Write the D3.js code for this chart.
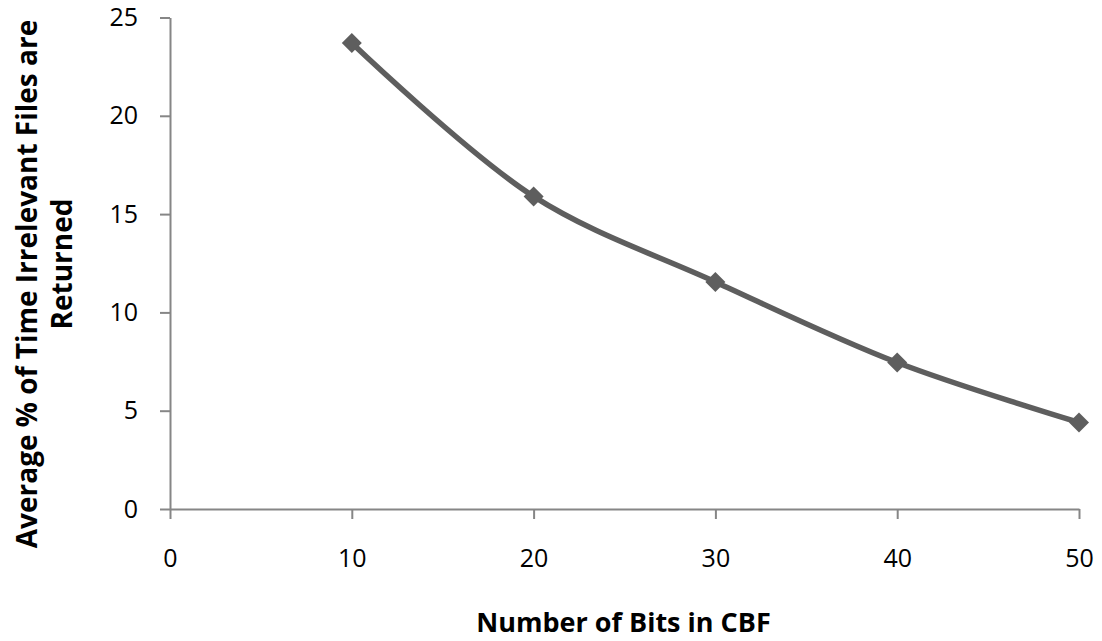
<!DOCTYPE html>
<html>
<head>
<meta charset="utf-8">
<script src="https://cdn.jsdelivr.net/npm/d3@7"></script>
<style>
  html, body { margin: 0; padding: 0; background: #fff; }
  svg { display: block; }
  text { font-family: "Open Sans", Lato, sans-serif; fill: #000; }
</style>
</head>
<body>
<svg id="chart" width="1102" height="641"></svg>
<script>
// Bits in the counting Bloom filter vs. share of irrelevant files returned
const bits = [10, 20, 30, 40, 50];
const irrelevantPct = [23.7, 15.9, 11.55, 7.45, 4.4];
const xTicks = [0, 10, 20, 30, 40, 50];
const yTicks = [0, 5, 10, 15, 20, 25];
const xTitle = "Number of Bits in CBF";
const yTitleLines = ["Average % of Time Irrelevant Files are", "Returned"];

const svg = d3.select("#chart");
const plot = { left: 170, right: 1079, top: 17.5, bottom: 509 };
const font = "'Open Sans', Lato, sans-serif";

const x = d3.scaleLinear().domain([0, 50]).range([plot.left, plot.right]);
const y = d3.scaleLinear().domain([0, 25]).range([plot.bottom, plot.top]);

const axisColor = "#868686";

// Y axis
const gy = svg.append("g").attr("transform", `translate(${plot.left},0)`)
  .call(d3.axisLeft(y).tickValues(yTicks).tickSize(10).tickPadding(22).tickSizeOuter(0));
gy.select(".domain").attr("stroke", axisColor).attr("stroke-width", 2);
gy.selectAll(".tick line").attr("stroke", axisColor).attr("stroke-width", 2);
gy.selectAll(".tick text").attr("font-size", 25).attr("font-family", font).attr("fill", "#000");

// X axis
const gx = svg.append("g").attr("transform", `translate(0,${plot.bottom})`)
  .call(d3.axisBottom(x).tickValues(xTicks).tickSize(10).tickPadding(30).tickSizeOuter(0));
gx.select(".domain").attr("stroke", axisColor).attr("stroke-width", 2);
gx.selectAll(".tick line").attr("stroke", axisColor).attr("stroke-width", 2);
gx.selectAll(".tick text").attr("font-size", 25).attr("font-family", font).attr("fill", "#000");

// Series line (smoothed)
const pts = bits.map((b, i) => [b, irrelevantPct[i]]);
const line = d3.line().x(d => x(d[0])).y(d => y(d[1])).curve(d3.curveCatmullRom.alpha(0.5));
svg.append("path").datum(pts)
  .attr("d", line)
  .attr("fill", "none")
  .attr("stroke", "#5e5e5e")
  .attr("stroke-width", 5.5)
  .attr("stroke-linejoin", "round");

// Diamond markers
svg.append("g").selectAll("path").data(pts).join("path")
  .attr("d", d3.symbol().type(d3.symbolSquare).size(200))
  .attr("transform", d => `translate(${x(d[0])},${y(d[1])}) rotate(45)`)
  .attr("fill", "#5e5e5e");

// Axis titles
svg.append("text")
  .attr("x", (plot.left + plot.right) / 2 - 1).attr("y", 632)
  .attr("text-anchor", "middle")
  .attr("font-size", 27).attr("font-weight", "bold")
  .text(xTitle);

const yt = svg.append("g");
yt.append("text")
  .attr("transform", "translate(37,284) rotate(-90)")
  .attr("text-anchor", "middle")
  .attr("font-size", 28).attr("font-weight", "bold")
  .text(yTitleLines[0]);
yt.append("text")
  .attr("transform", "translate(72,264) rotate(-90)")
  .attr("text-anchor", "middle")
  .attr("font-size", 28).attr("font-weight", "bold")
  .text(yTitleLines[1]);
</script>
</body>
</html>
